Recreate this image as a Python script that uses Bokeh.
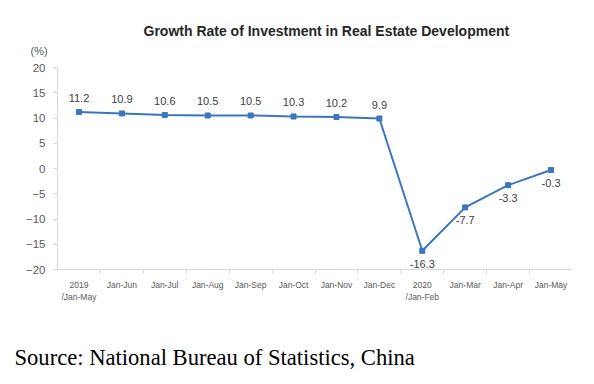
from bokeh.plotting import figure
from bokeh.models import (ColumnDataSource, Title, FactorRange, FixedTicker, Range1d,
                          CategoricalAxis)
from bokeh.core.properties import value
from bokeh.embed import file_html
from bokeh.resources import INLINE

categories = ["2019\n/Jan-May", "Jan-Jun", "Jan-Jul", "Jan-Aug", "Jan-Sep", "Jan-Oct",
              "Jan-Nov", "Jan-Dec", "2020\n/Jan-Feb", "Jan-Mar", "Jan-Apr", "Jan-May"]
growth = [11.2, 10.9, 10.6, 10.5, 10.5, 10.3, 10.2, 9.9, -16.3, -7.7, -3.3, -0.3]
label_text = ["11.2", "10.9", "10.6", "10.5", "10.5", "10.3", "10.2", "9.9", "-16.3", "-7.7", "-3.3", "-0.3"]
y_ticks = [-20, -15, -10, -5, 0, 5, 10, 15, 20]

title_text = "Growth Rate of Investment in Real Estate Development"
unit_text = "(%)"
source_text = "Source: National Bureau of Statistics, China"

W, H = 594, 384
p = figure(width=W, height=H, x_range=FactorRange(*categories), y_range=Range1d(-20, 20),
           output_backend="svg", toolbar_location=None,
           min_border_left=57, min_border_right=W - 572, min_border_top=67, min_border_bottom=H - 270)
p.outline_line_color = None
p.grid.visible = False
p.background_fill_color = "white"
p.border_fill_color = "white"

blue = "#3a76c0"
src = ColumnDataSource(dict(x=categories, y=growth, t=label_text))
p.line("x", "y", source=src, line_color=blue, line_width=2)
p.scatter("x", "y", source=src, marker="square", size=5, fill_color=blue, line_color=blue)

top = ColumnDataSource(dict(x=categories[:8], y=growth[:8], t=label_text[:8]))
bot = ColumnDataSource(dict(x=categories[8:], y=growth[8:], t=label_text[8:]))
p.text("x", "y", text="t", source=top, text_align="center", text_baseline="middle", y_offset=-14,
       text_font=value("Liberation Sans"), text_font_size="11px", text_color="#404040")
p.text("x", "y", text="t", source=bot, text_align="center", text_baseline="middle", y_offset=13,
       text_font=value("Liberation Sans"), text_font_size="11px", text_color="#404040")

# y axis
p.yaxis.ticker = FixedTicker(ticks=y_ticks)
p.yaxis.axis_line_color = "#d9d9d9"
p.yaxis.major_tick_line_color = "#d9d9d9"
p.yaxis.major_tick_out = 4
p.yaxis.major_tick_in = 0
p.yaxis.minor_tick_line_color = None
p.yaxis.major_label_text_font = "Liberation Sans"
p.yaxis.major_label_text_font_size = "11.5px"
p.yaxis.major_label_text_color = "#595959"
p.yaxis.major_label_standoff = 8

# category axis (labels only)
cat_axis = p.xaxis[0]
cat_axis.axis_line_color = None
cat_axis.major_tick_line_color = None
cat_axis.major_label_text_font = "Liberation Sans"
cat_axis.major_label_text_font_size = "8.5px"
cat_axis.major_label_text_color = "#595959"
cat_axis.major_label_standoff = 0

# axis line with tick marks at the category boundaries
n_bounds = len(categories) + 1
bounds = FactorRange(factors=["b%d" % i for i in range(n_bounds)],
                     range_padding=-1.0 / n_bounds, range_padding_units="percent")
p.extra_x_ranges = {"bounds": bounds}
tick_axis = CategoricalAxis(x_range_name="bounds",
                            axis_line_color="#d9d9d9", major_tick_line_color="#d9d9d9",
                            major_tick_out=4, major_tick_in=0, minor_tick_line_color=None,
                            major_label_text_font_size="0px", major_label_text_color=None,
                            major_label_standoff=0)
p.add_layout(tick_axis, "below")

# "(%)" unit title (closest to frame), then main title outermost
p.add_layout(Title(text=unit_text, align="left", offset=-27, standoff=21,
                   text_font="Liberation Sans", text_font_style="normal", text_font_size="11px",
                   text_color="#595959"), "above")
p.title.text = title_text
p.title.align = "left"
p.title.offset = 86
p.title.standoff = -13
p.title.text_font = "Liberation Sans"
p.title.text_font_style = "bold"
p.title.text_font_size = "14px"
p.title.text_color = "#262626"

# empty spacer between the category labels and the source note
spacer = Title(text=" ", align="left", offset=0, standoff=20, text_font_size="2px", text_color="white")
src_title = Title(text=source_text, align="left", offset=-43, standoff=29,
                  text_font="Liberation Serif", text_font_style="normal", text_font_size="22.6px",
                  text_color="black")
p.below = [tick_axis, cat_axis, spacer, src_title]

open("out.html", "w").write(file_html(p, INLINE))
